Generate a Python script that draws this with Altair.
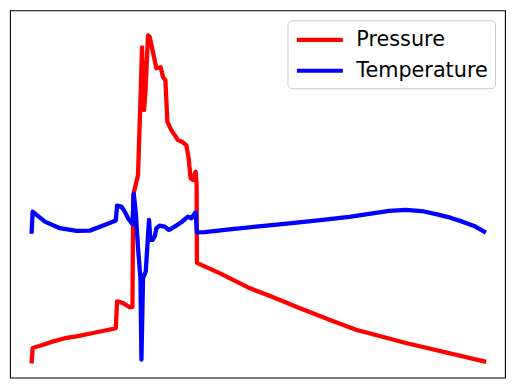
import altair as alt
import pandas as pd

# Pressure series (time, value)
p_x = [21.7, 22.7, 33.3, 43.3, 55, 66.7, 83.3, 106, 107.3, 113.3, 120, 122.7, 123.5, 128.3,
       130.7, 132.3, 134.3, 135.7, 138.3, 140, 144.3, 146.7, 151, 153.3, 155.7, 157.7, 161.7,
       168.3, 172.3, 176.7, 179, 181, 183.3, 186, 187, 187.3, 210, 240, 260, 290, 320, 346.7,
       396.7, 475]
p_y = [16.3, 29.7, 33, 36.3, 39.5, 41.3, 44.7, 49.5, 76.5, 74.7, 70.5, 71, 183, 203,
       278, 331, 268, 286, 343, 341.3, 321.3, 310, 311, 301.3, 298, 256.3, 248,
       238, 236.3, 233, 220, 199.7, 198, 206.3, 193, 115, 104.7, 89.7, 82, 69.7, 58, 48,
       34.7, 16.3]

# Temperature series (time, value)
t_x = [21.7, 22.7, 35, 50, 66.7, 80, 96.7, 106, 107.3, 111.7, 115, 118.3, 122.7, 124, 126,
       128.3, 130.7, 131.7, 133.3, 136, 137.3, 139.3, 140.7, 142.7, 145, 146.7, 150, 155, 159.3,
       165, 171.7, 178.3, 181.7, 186, 187.3, 195, 220, 246.7, 280, 313.3, 340, 363.3, 380,
       396.7, 415, 430, 442, 453.3, 465, 475]
t_y = [146.3, 166.3, 156.3, 149.7, 147, 147.3, 153.7, 157.5, 172.3, 171.3, 166.3, 159.7, 153.7, 184, 166.3,
       129.7, 99.7, 18, 99.7, 106.3, 126.3, 158, 138, 138, 141.3, 149.7, 152.3, 151.3, 148,
       151.3, 155.7, 161.3, 159.7, 165.7, 145.5, 145.7, 148.5, 151.3, 154.5, 158, 161, 164.7, 167,
       168, 166.5, 163, 160, 156.3, 152, 146.3]

series_names = ["Pressure", "Temperature"]
series_colors = ["#ff0000", "#0000ff"]

pdf = pd.DataFrame({"time": p_x, "value": p_y, "series": "Pressure", "i": range(len(p_x))})
tdf = pd.DataFrame({"time": t_x, "value": t_y, "series": "Temperature", "i": range(len(t_x))})

x_scale = alt.Scale(domain=[0, 496], nice=False, zero=False)
y_scale = alt.Scale(domain=[0, 368], nice=False, zero=False)

legend = alt.Legend(
    title=None, orient="none", legendX=278, legendY=10,
    symbolType="M-1,0H3.6", symbolSize=400, symbolStrokeWidth=4.2,
    labelFontSize=20.8, labelFont="DejaVu Sans", labelColor="black", labelOffset=37,
    padding=7, rowPadding=8, strokeColor="#cccccc", fillColor="rgba(255,255,255,0.8)",
    cornerRadius=4,
)
color = alt.Color("series:N", scale=alt.Scale(domain=series_names, range=series_colors), legend=legend)

def line(df):
    return alt.Chart(df).mark_line(strokeWidth=4.3, strokeJoin="round", strokeCap="square").encode(
        x=alt.X("time:Q", scale=x_scale, axis=None),
        y=alt.Y("value:Q", scale=y_scale, axis=None),
        color=color,
        order="i:Q",
    )

chart = alt.layer(line(pdf), line(tdf)).properties(
    width=496, height=368,
    padding={"left": 2, "top": 2, "right": 2, "bottom": 2},
    background="white",
).configure_view(stroke="black", strokeWidth=1.1)

chart.save("out.html", embed_options={"renderer": "svg", "actions": False})
